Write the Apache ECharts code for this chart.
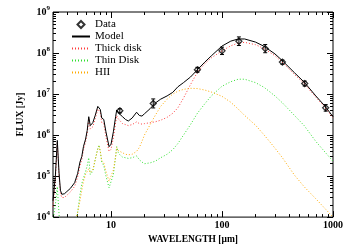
<!DOCTYPE html>
<html><head><meta charset="utf-8">
<script src="https://cdn.jsdelivr.net/npm/echarts@6/dist/echarts.min.js"></script>
<style>html,body{margin:0;padding:0;background:#fff}#c{width:350px;height:250px}</style>
</head><body><div id="c"></div>
<script>
// Wavelength grid (micron) shared by the model components
const wavelengths = [3.0,3.15,3.28,3.4,3.5,3.6,3.8,4.0,4.3,4.7,5.0,5.25,5.45,5.65,5.9,6.1,6.3,6.5,6.85,7.2,7.6,7.8,8.0,8.25,8.6,9.0,9.6,10.0,10.5,11.0,11.25,11.6,12.0,12.7,13.5,14.3,15.5,17.0,18.0,19.0,20.0,22.5,25,28,32,36,40,45,52,60,70,80,100,120,140,160,200,240,300,350,450,550,700,850,1000];
const modelFlux = [2.5e4,1.0e5,7.4e5,1.2e5,4.5e4,3.6e4,3.7e4,4.2e4,5.0e4,6.9e4,1.15e5,2.2e5,3.0e5,5.3e5,8.0e5,1.3e6,2.8e6,1.7e6,2.0e6,3.0e6,5.0e6,5.4e6,4.2e6,2.6e6,2.4e6,1.2e6,5.2e5,6.0e5,1.2e6,2.8e6,4.1e6,3.5e6,3.7e6,2.8e6,2.4e6,2.2e6,2.6e6,3.6e6,3.0e6,2.9e6,3.3e6,4.4e6,6.0e6,7.5e6,9.0e6,1.1e7,1.5e7,1.9e7,2.6e7,3.9e7,6.0e7,8.5e7,1.48e8,1.95e8,2.2e8,2.2e8,1.85e8,1.45e8,9.5e7,6.5e7,3.3e7,1.95e7,9.0e6,5.0e6,2.8e6];
const thickFlux = [1.8e4,8.0e4,6.5e5,1.0e5,3.8e4,3.0e4,3.0e4,3.4e4,4.1e4,5.6e4,9.5e4,1.8e5,2.5e5,4.4e5,6.9e5,1.1e6,2.5e6,1.4e6,1.6e6,2.5e6,4.3e6,4.8e6,3.6e6,2.0e6,1.9e6,9.0e5,4.0e5,4.5e5,8.5e5,2.0e6,3.0e6,2.5e6,2.4e6,1.9e6,1.8e6,1.7e6,1.8e6,2.1e6,1.9e6,1.85e6,1.9e6,2.0e6,2.1e6,2.3e6,2.7e6,3.4e6,4.6e6,8.0e6,1.7e7,3.4e7,5.5e7,7.6e7,1.13e8,1.5e8,1.75e8,1.82e8,1.6e8,1.28e8,8.6e7,5.9e7,3.0e7,1.8e7,8.4e6,4.7e6,2.6e6];
const thinFlux = [8e3,2.0e4,5.5e4,1.2e4,4e3,2e3,1e3,1e3,1.5e3,5e3,1.3e4,3.5e4,6.5e4,9e4,1.3e5,1.8e5,2.8e5,1.1e5,1.3e5,2.5e5,4.8e5,5.7e5,4.0e5,2.2e5,1.8e5,1.0e5,5.2e4,5.5e4,1.1e5,3.0e5,5.2e5,3.8e5,3.3e5,2.9e5,2.8e5,2.7e5,2.8e5,3.1e5,2.5e5,2.2e5,2.0e5,2.1e5,2.3e5,2.8e5,3.4e5,4.4e5,6.2e5,1.0e6,1.8e6,3.4e6,5.8e6,9.0e6,1.55e7,2.0e7,2.3e7,2.3e7,1.9e7,1.45e7,9.0e6,6.1e6,3.0e6,1.7e6,7.0e5,3.8e5,2.3e5];
const hiiFlux = [1e3,1e3,1e3,1e3,1e3,1e3,1e3,1e3,1e3,6e3,1.3e4,2.5e4,4.5e4,7.5e4,1.1e5,1.3e5,1.5e5,1.2e5,1.4e5,2.5e5,4.5e5,5.3e5,4.0e5,2.4e5,2.1e5,1.3e5,7.5e4,8.0e4,1.4e5,3.0e5,5.0e5,4.2e5,4.0e5,3.7e5,3.4e5,3.3e5,3.4e5,4.0e5,5.0e5,7.0e5,1.0e6,1.8e6,3.0e6,5.0e6,7.5e6,1.0e7,1.17e7,1.3e7,1.38e7,1.36e7,1.25e7,1.12e7,8.8e6,6.3e6,4.3e6,3.0e6,1.75e6,1.0e6,4.8e5,2.8e5,1.05e5,5.5e4,2.8e4,1.6e4,1.0e4];
// Observed photometry
const dataWave = [12, 24, 60, 100, 142, 245, 350, 556, 859];
const dataFlux = [3.9e6, 5.9e6, 3.9e7, 1.13e8, 1.94e8, 1.28e8, 6.0e7, 1.8e7, 4.6e6];
const dataErrDex = [0.05, 0.11, 0.06, 0.09, 0.105, 0.1, 0.05, 0.06, 0.08];
// Axis ticks (powers of ten)
const xMajorTicks = [10, 100, 1000];
const yMajorTicks = [1e4, 1e5, 1e6, 1e7, 1e8, 1e9];
const xMin = 3, xMax = 1000, yMin = 1e4, yMax = 1e9;

const L = Math.log10;
const toPts = (ws, fs) => ws.map((w, i) => [L(w), L(fs[i])]);
function minors(lo, hi) {
  const out = [];
  for (let e = Math.floor(L(lo)); e <= Math.ceil(L(hi)); e++)
    for (let k = 1; k <= 9; k++) { const v = k * Math.pow(10, e); if (v >= lo && v <= hi) out.push(L(v)); }
  return out;
}
const xMinor = minors(xMin, xMax), yMinor = minors(yMin, yMax);
const xMaj = xMajorTicks.map(L), yMaj = yMajorTicks.map(L);
const FONT = 'Liberation Serif';

function xAx(pos, ticks, len, labels, extra) {
  return Object.assign({
    type: 'value', position: pos, min: L(xMin), max: L(xMax), gridIndex: 0,
    axisLine: { show: false, onZero: false }, splitLine: { show: false },
    axisTick: { show: true, inside: true, length: len, customValues: ticks, lineStyle: { color: '#000', width: 1 } },
    axisLabel: labels ? { show: true, customValues: xMaj, margin: 3, color: '#000', fontFamily: FONT, fontSize: 10, fontWeight: 'bold',
      formatter: v => String(Math.round(Math.pow(10, v))) } : { show: false }
  }, extra || {});
}
function yAx(pos, ticks, len, labels, extra) {
  return Object.assign({
    type: 'value', position: pos, min: L(yMin), max: L(yMax), gridIndex: 0,
    axisLine: { show: false, onZero: false }, splitLine: { show: false },
    axisTick: { show: true, inside: true, length: len, customValues: ticks, lineStyle: { color: '#000', width: 1 } },
    axisLabel: labels ? { show: true, customValues: yMaj, margin: 3, color: '#000',
      formatter: v => '{b|10}{s|' + Math.round(v) + '}',
      rich: { b: { fontFamily: FONT, fontSize: 10, fontWeight: 'bold', lineHeight: 14, color: '#000' },
              s: { fontFamily: FONT, fontSize: 7, fontWeight: 'bold', lineHeight: 8, verticalAlign: 'top', color: '#000' } } } : { show: false }
  }, extra || {});
}

const hide = { color: 'transparent', borderColor: 'transparent', borderWidth: 0 };
const chart = echarts.init(document.getElementById('c'), null, { renderer: 'canvas' });
const dotted = [1, 2];
chart.setOption({
  animation: false,
  backgroundColor: '#fff',
  grid: { left: 53, right: 17, top: 12, bottom: 25, show: true, borderColor: '#000', borderWidth: 1, backgroundColor: 'transparent' },
  legend: {
    orient: 'vertical', left: 71, top: 19, itemWidth: 18, itemHeight: 7, itemGap: 1, padding: 0, symbolKeepAspect: true,
    data: [
      { name: 'Data', icon: 'path://M5,0L10,5L5,10L0,5Z' },
      { name: 'Model', itemStyle: hide },
      { name: 'Thick disk', itemStyle: hide },
      { name: 'Thin Disk', itemStyle: hide },
      { name: 'HII', itemStyle: hide }
    ],
    textStyle: { fontFamily: FONT, fontSize: 11, color: '#000' }
  },
  xAxis: [
    xAx('bottom', xMaj, 6, true, { name: 'WAVELENGTH [μm]', nameLocation: 'middle', nameGap: 10,
      nameTextStyle: { fontFamily: FONT, fontSize: 9.5, fontWeight: 'bold', color: '#000' } }),
    xAx('bottom', xMinor, 3, false),
    xAx('top', xMaj, 6, false),
    xAx('top', xMinor, 3, false)
  ],
  yAxis: [
    yAx('left', yMaj, 6, true, { name: 'FLUX [Jy]', nameLocation: 'middle', nameGap: 26, nameRotate: 90,
      nameTextStyle: { fontFamily: FONT, fontSize: 9.5, fontWeight: 'bold', color: '#000' } }),
    yAx('left', yMinor, 3, false),
    yAx('right', yMaj, 6, false),
    yAx('right', yMinor, 3, false)
  ],
  series: [
    { name: 'Thick disk', type: 'line', data: toPts(wavelengths, thickFlux), symbol: 'none',
      lineStyle: { color: '#ff3b3b', width: 1, type: dotted }, itemStyle: { color: '#ff3b3b' } },
    { name: 'Thin Disk', type: 'line', data: toPts(wavelengths, thinFlux), symbol: 'none',
      lineStyle: { color: '#2fe02f', width: 1, type: dotted }, itemStyle: { color: '#2fe02f' } },
    { name: 'HII', type: 'line', data: toPts(wavelengths, hiiFlux), symbol: 'none',
      lineStyle: { color: '#ffaa00', width: 1, type: dotted }, itemStyle: { color: '#ffaa00' } },
    { name: 'Model', type: 'line', data: toPts(wavelengths, modelFlux), symbol: 'none',
      lineStyle: { color: '#000', width: 1 }, itemStyle: { color: '#000' } },
    { name: 'errors', type: 'custom', data: dataWave.map((w, i) => [L(w), L(dataFlux[i]) - dataErrDex[i], L(dataFlux[i]) + dataErrDex[i]]),
      encode: { x: 0, y: [1, 2] }, z: 3,
      renderItem: function (params, api) {
        const x = api.value(0);
        const lo = api.coord([x, api.value(1)]), hi = api.coord([x, api.value(2)]);
        const w = 2, st = { stroke: '#000', lineWidth: 1 };
        return { type: 'group', children: [
          { type: 'line', shape: { x1: hi[0], y1: hi[1], x2: lo[0], y2: lo[1] }, style: st },
          { type: 'line', shape: { x1: hi[0] - w, y1: hi[1], x2: hi[0] + w, y2: hi[1] }, style: st },
          { type: 'line', shape: { x1: lo[0] - w, y1: lo[1], x2: lo[0] + w, y2: lo[1] }, style: st }
        ] };
      } },
    { name: 'Data', type: 'scatter', data: toPts(dataWave, dataFlux), symbol: 'diamond', symbolSize: 6, z: 4,
      itemStyle: { color: 'transparent', borderColor: '#000', borderWidth: 1.3 } }
  ]
});
</script></body></html>
